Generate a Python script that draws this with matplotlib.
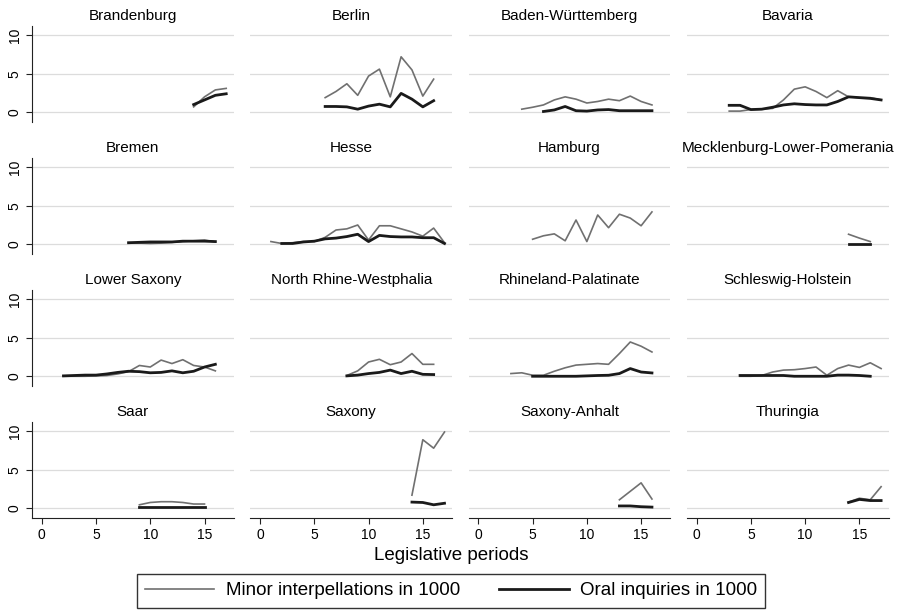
import matplotlib
matplotlib.use("Agg")
import matplotlib.pyplot as plt
from matplotlib.lines import Line2D

plt.rcParams['font.family'] = ['Liberation Sans', 'DejaVu Sans']

# state names in panel order (row by row)
states = ["Brandenburg", "Berlin", "Baden-Württemberg", "Bavaria",
          "Bremen", "Hesse", "Hamburg", "Mecklenburg-Lower-Pomerania",
          "Lower Saxony", "North Rhine-Westphalia", "Rhineland-Palatinate", "Schleswig-Holstein",
          "Saar", "Saxony", "Saxony-Anhalt", "Thuringia"]

# first legislative period of each series (periods are consecutive from there)
minor_start = [14, 6, 4, 3, 8, 1, 5, 14, 2, 8, 3, 4, 9, 14, 13, 14]
oral_start = [14, 6, 6, 3, 8, 2, None, 14, 2, 8, 5, 4, 9, 14, 13, 14]

# minor interpellations in 1000
minor = [
    [0.7, 2.0, 2.9, 3.1],
    [1.9, 2.7, 3.7, 2.2, 4.7, 5.6, 2.0, 7.2, 5.5, 2.1, 4.3],
    [0.4, 0.65, 0.95, 1.6, 2.0, 1.7, 1.2, 1.4, 1.7, 1.5, 2.1, 1.4, 0.95],
    [0.15, 0.15, 0.35, 0.4, 0.5, 1.6, 3.0, 3.3, 2.7, 1.9, 2.8, 2.0, 1.9, 1.9, 1.6],
    [0.2, 0.15, 0.1, 0.15, 0.25, 0.35, 0.45, 0.55, 0.3],
    [0.35, 0.1, 0.2, 0.35, 0.35, 0.9, 1.85, 2.0, 2.5, 0.55, 2.4, 2.4, 2.0, 1.6, 1.05, 2.1, 0.2],
    [0.65, 1.1, 1.35, 0.45, 3.15, 0.35, 3.8, 2.15, 3.9, 3.4, 2.4, 4.2],
    [1.3, 0.8, 0.35],
    [0.0, 0.0, 0.0, 0.05, 0.1, 0.3, 0.6, 1.4, 1.2, 2.1, 1.65, 2.15, 1.4, 1.2, 0.7],
    [0.1, 0.7, 1.85, 2.2, 1.5, 1.85, 2.95, 1.55, 1.55],
    [0.35, 0.45, 0.13, 0.13, 0.65, 1.1, 1.45, 1.55, 1.65, 1.55, 2.95, 4.45, 3.9, 3.15],
    [0.0, 0.0, 0.1, 0.55, 0.8, 0.85, 1.0, 1.2, 0.13, 1.0, 1.45, 1.15, 1.75, 1.0],
    [0.45, 0.75, 0.85, 0.85, 0.75, 0.55, 0.55],
    [1.7, 8.9, 7.8, 9.9],
    [1.1, 2.2, 3.3, 1.2],
    [0.8, 1.3, 1.1, 2.8],
]

# oral inquiries in 1000
oral = [
    [1.0, 1.6, 2.2, 2.4],
    [0.75, 0.75, 0.7, 0.4, 0.8, 1.05, 0.7, 2.45, 1.7, 0.7, 1.5],
    [0.1, 0.3, 0.75, 0.2, 0.15, 0.3, 0.35, 0.2, 0.2, 0.2, 0.2],
    [0.9, 0.9, 0.35, 0.4, 0.65, 0.95, 1.1, 1.0, 0.95, 0.95, 1.4, 2.0, 1.9, 1.8, 1.6],
    [0.2, 0.25, 0.3, 0.3, 0.3, 0.4, 0.4, 0.4, 0.35],
    [0.1, 0.1, 0.3, 0.4, 0.7, 0.8, 1.0, 1.3, 0.35, 1.15, 1.0, 0.95, 0.95, 0.85, 0.85, 0.1],
    [],
    [0.05, 0.05, 0.05],
    [0.05, 0.1, 0.15, 0.15, 0.3, 0.5, 0.65, 0.6, 0.45, 0.5, 0.7, 0.45, 0.65, 1.2, 1.55],
    [0.05, 0.15, 0.35, 0.5, 0.8, 0.35, 0.65, 0.25, 0.22],
    [0.0, 0.0, 0.0, 0.0, 0.0, 0.05, 0.1, 0.13, 0.35, 1.0, 0.55, 0.43],
    [0.1, 0.1, 0.1, 0.1, 0.1, 0.0, 0.0, 0.0, 0.0, 0.15, 0.15, 0.1, 0.0],
    [0.15, 0.15, 0.15, 0.15, 0.15, 0.15, 0.15],
    [0.8, 0.75, 0.45, 0.65],
    [0.3, 0.3, 0.2, 0.15],
    [0.75, 1.15, 1.0, 1.0],
]

W, H = 902, 612
fig = plt.figure(figsize=(W / 100, H / 100), dpi=100)

gray_col = "#707070"
black_col = "#1a1a1a"

for i, name in enumerate(states):
    r, c = divmod(i, 4)
    left = 32 + 218.3 * c
    top = 26 + 132 * r
    ax = fig.add_axes([left / W, 1 - (top + 95.5) / H, 201.8 / W, 95.5 / H])
    ax.set_xlim(-0.9, 17.7)
    ax.set_ylim(-1.2, 11.2)
    for g in [0, 5, 10]:
        ax.axhline(g, color="#dcdcdc", lw=0.9, zorder=0)

    xs = list(range(minor_start[i], minor_start[i] + len(minor[i])))
    ax.plot(xs, minor[i], color=gray_col, lw=1.2)
    if oral_start[i] is not None:
        xo = list(range(oral_start[i], oral_start[i] + len(oral[i])))
        ax.plot(xo, oral[i], color=black_col, lw=2.0)

    ax.set_title(name, fontsize=11, pad=4.5)
    for s in ["top", "right"]:
        ax.spines[s].set_visible(False)
    ax.set_xticks([0, 5, 10, 15])
    ax.set_yticks([0, 5, 10])
    if c == 0:
        ax.spines["left"].set_color("#222222")
        ax.set_yticklabels(["0", "5", "10"], rotation=90, va="center", fontsize=10)
        ax.tick_params(axis="y", length=4, color="#222222")
    else:
        ax.spines["left"].set_visible(False)
        ax.tick_params(axis="y", left=False, labelleft=False)
    if r == 3:
        ax.spines["bottom"].set_color("#222222")
        ax.tick_params(axis="x", length=4, labelsize=10, color="#222222")
    else:
        ax.spines["bottom"].set_visible(False)
        ax.tick_params(axis="x", bottom=False, labelbottom=False)

fig.text(451 / W, 1 - 555 / H, "Legislative periods", ha="center", va="center", fontsize=13.5)

handles = [Line2D([], [], color=gray_col, lw=1.2),
           Line2D([], [], color=black_col, lw=2.0)]
leg = fig.legend(handles, ["Minor interpellations in 1000", "Oral inquiries in 1000"],
                 loc="center", bbox_to_anchor=(451 / W, 1 - 590.5 / H), ncol=2,
                 fontsize=13.5, frameon=True, fancybox=False, edgecolor="black",
                 handlelength=3.7, handletextpad=0.6, columnspacing=2.1,
                 borderpad=0.45)
leg.get_frame().set_linewidth(1.0)

fig.savefig("out.png", dpi=100)
